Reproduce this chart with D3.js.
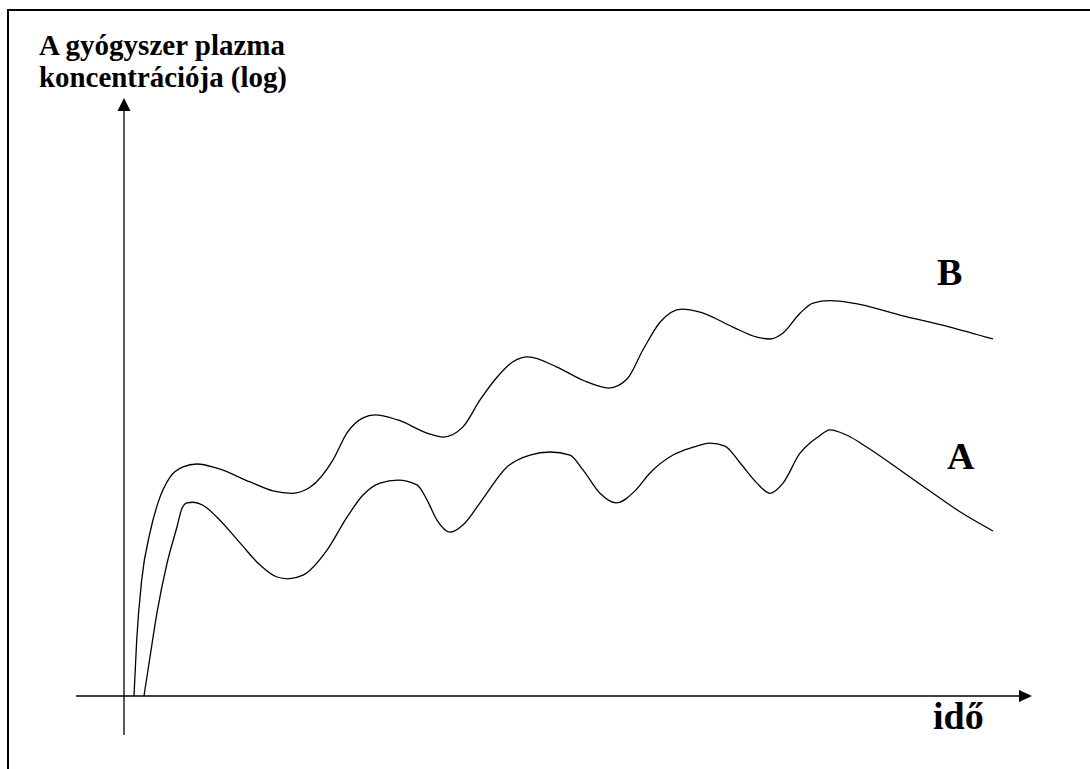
<!DOCTYPE html>
<html>
<head>
<meta charset="utf-8">
<script src="https://cdn.jsdelivr.net/npm/d3@7"></script>
<style>
  html, body { margin: 0; padding: 0; background: #fff; }
  svg { display: block; }
  text { font-family: "Liberation Serif", "Times New Roman", serif; font-weight: bold; fill: #000; }
</style>
</head>
<body>
<svg id="chart" width="1090" height="769"></svg>
<script>
// ---- Data (time in arbitrary units, log concentration in arbitrary units) ----
const timeB = [1.1, 1.4, 1.95, 2.86, 3.74, 5.07, 6.5, 8.04, 10.24, 13.88, 16.41, 18.5, 20.48, 23.02, 24.56, 26.32, 27.64, 30.07, 33.7, 35.13, 37.33, 39.21, 41.08, 42.84, 44.49, 47.69, 50.55, 53.41, 55.4, 57.16, 59.03, 61.45, 63.44, 67.07, 69.71, 71.15, 72.58, 74.45, 75.88, 77.75, 80.29, 85.46, 90.97, 95.7];
const concB = [0, 9.4, 19.4, 27.3, 32.3, 36.6, 38.3, 38.8, 38.1, 35.8, 34.3, 33.9, 34.9, 39.5, 44.0, 46.5, 47.0, 46.2, 43.8, 43.3, 45.0, 49.5, 53.3, 55.9, 56.7, 55.0, 52.8, 51.5, 53.0, 57.9, 62.5, 64.7, 64.2, 61.7, 60.0, 59.7, 60.7, 64.0, 65.7, 66.1, 65.7, 63.7, 61.7, 59.7];

const timeA = [2.2, 2.86, 3.63, 4.74, 5.84, 6.39, 6.94, 7.6, 8.7, 10.24, 12.78, 14.98, 16.85, 18.06, 19.71, 22.36, 24.56, 26.32, 28.19, 30.18, 32.27, 33.37, 34.47, 35.9, 37.33, 39.21, 42.18, 44.71, 46.92, 49.12, 50.55, 52.42, 54.19, 56.28, 57.93, 60.46, 62.67, 64.54, 66.19, 67.84, 69.71, 71.15, 72.58, 74.45, 75.55, 76.43, 77.75, 79.63, 81.83, 85.46, 89.1, 92.07, 95.7];
const concA = [0, 6.5, 13.9, 22.2, 28.3, 31.4, 32.3, 32.4, 31.9, 29.9, 25.6, 21.9, 19.9, 19.6, 20.2, 24.4, 29.9, 33.6, 35.6, 36.1, 35.3, 32.8, 29.4, 27.4, 28.6, 32.3, 38.3, 40.3, 40.8, 40.3, 37.8, 33.9, 32.3, 34.3, 37.3, 40.3, 41.6, 42.3, 41.8, 39.0, 35.6, 33.9, 35.6, 40.6, 42.3, 43.3, 44.5, 43.6, 41.6, 37.8, 33.9, 30.8, 27.6];

const seriesNames = ["A", "B"];
const yTitleLines = ["A gyógyszer plazma", "koncentrációja (log)"];
const xTitle = "idő";

// ---- Layout ----
const svg = d3.select("#chart");
const x = d3.scaleLinear().domain([0, 100]).range([124, 1032]);
const y = d3.scaleLinear().domain([0, 100]).range([696, 98]);

// frame
svg.append("rect")
  .attr("x", 8).attr("y", 10).attr("width", 1100).attr("height", 800)
  .attr("fill", "none").attr("stroke", "#000").attr("stroke-width", 2);

// axes
const axisColor = "#000";
const x0 = x(0), y0 = y(0);
svg.append("line")
  .attr("x1", 76).attr("x2", x(100) - 12)
  .attr("y1", y0).attr("y2", y0)
  .attr("stroke", axisColor).attr("stroke-width", 1.3);
svg.append("path")
  .attr("d", `M${x(100)},${y0} L${x(100) - 13},${y0 - 6} L${x(100) - 13},${y0 + 6} Z`)
  .attr("fill", axisColor);

svg.append("line")
  .attr("x1", x0).attr("x2", x0)
  .attr("y1", 735).attr("y2", y(100) + 12)
  .attr("stroke", axisColor).attr("stroke-width", 1.3);
svg.append("path")
  .attr("d", `M${x0},${y(100)} L${x0 - 6.5},${y(100) + 13} L${x0 + 6.5},${y(100) + 13} Z`)
  .attr("fill", axisColor);

// curves
const line = d3.line()
  .x(d => x(d[0]))
  .y(d => y(d[1]))
  .curve(d3.curveMonotoneX);

const dataA = timeA.map((t, i) => [t, concA[i]]);
const dataB = timeB.map((t, i) => [t, concB[i]]);

[dataA, dataB].forEach(d => {
  svg.append("path")
    .datum(d)
    .attr("d", line)
    .attr("fill", "none")
    .attr("stroke", "#000")
    .attr("stroke-width", 1.3);
});

// series labels
svg.append("text").attr("x", 947).attr("y", 469).attr("font-size", 38).text(seriesNames[0]);
svg.append("text").attr("x", 937).attr("y", 285).attr("font-size", 38).text(seriesNames[1]);

// axis titles
svg.append("text").attr("x", 933).attr("y", 729).attr("font-size", 38).text(xTitle);
svg.append("text").attr("x", 39).attr("y", 55).attr("font-size", 29).attr("textLength", 246).attr("lengthAdjust", "spacingAndGlyphs").text(yTitleLines[0]);
svg.append("text").attr("x", 39).attr("y", 87).attr("font-size", 29).attr("textLength", 248).attr("lengthAdjust", "spacingAndGlyphs").text(yTitleLines[1]);
</script>
</body>
</html>
